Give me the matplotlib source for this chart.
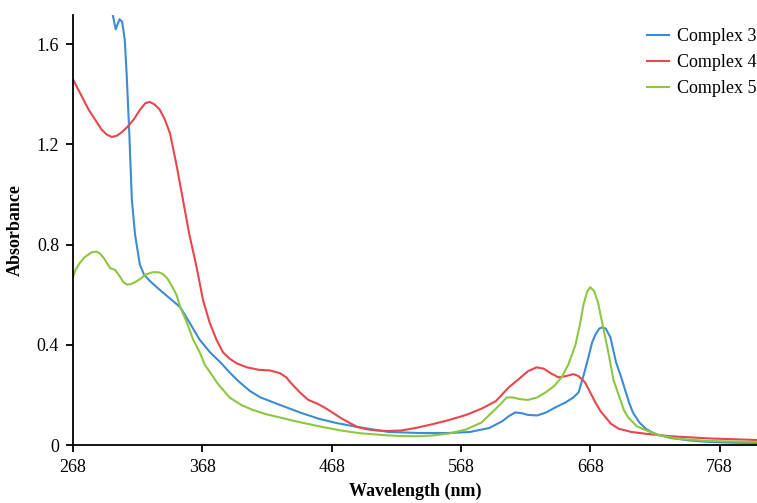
import numpy as np
import matplotlib.pyplot as plt

plt.rcParams['font.family'] = ['Liberation Serif', 'DejaVu Serif']

# Complex 3 (blue)
wl3 = [295, 298.8, 301, 304, 306, 308, 309.6, 311.5, 313.5, 316, 319.7, 323, 327.4, 335, 343, 351,
       358, 366, 374, 382, 390, 397, 405, 413, 428, 443.5, 458, 471.5, 488, 512, 535, 559, 575, 590,
       600, 605, 610, 615, 620, 627, 634, 641, 649, 655, 659, 663, 666.6, 669.5, 672, 675, 677.5, 680,
       683.6, 688, 692, 695, 698, 701, 706, 711, 716, 721, 730, 745, 761, 780, 797]
abs3 = [1.85, 1.716, 1.66, 1.70, 1.69, 1.62, 1.47, 1.25, 0.98, 0.84, 0.72, 0.68, 0.655, 0.62, 0.585, 0.55,
        0.49, 0.42, 0.37, 0.33, 0.285, 0.25, 0.215, 0.19, 0.16, 0.13, 0.105, 0.088, 0.072, 0.052, 0.048, 0.048, 0.052, 0.068,
        0.095, 0.115, 0.13, 0.127, 0.12, 0.118, 0.13, 0.15, 0.17, 0.19, 0.21, 0.28, 0.35, 0.41, 0.44, 0.465, 0.47, 0.465,
        0.43, 0.33, 0.27, 0.22, 0.17, 0.13, 0.09, 0.065, 0.05, 0.04, 0.028, 0.018, 0.012, 0.009, 0.008]

# Complex 4 (red)
wl4 = [268, 272, 276, 280, 285, 290, 294, 298, 302, 306, 310, 315, 320, 324, 327.4, 331, 335, 339, 343,
       348, 353, 358, 363.6, 368.5, 373.6, 379, 384, 389, 395, 402.6, 412, 420, 428, 433, 437, 443.5, 450,
       457, 464, 470, 476, 482, 488, 495, 503, 512, 522, 533, 546, 559, 572, 584, 595, 605, 612, 620,
       626.5, 632, 638, 643.5, 649, 655, 659, 664, 668, 672, 676, 680, 684, 690, 700, 710.5, 730, 761, 797]
abs4 = [1.46, 1.42, 1.38, 1.34, 1.30, 1.26, 1.24, 1.23, 1.235, 1.25, 1.27, 1.30, 1.34, 1.365, 1.37, 1.36, 1.34, 1.30, 1.245,
        1.12, 0.98, 0.84, 0.71, 0.58, 0.49, 0.42, 0.37, 0.345, 0.325, 0.31, 0.30, 0.298, 0.287, 0.27, 0.245, 0.21, 0.18,
        0.165, 0.145, 0.125, 0.105, 0.088, 0.072, 0.063, 0.058, 0.056, 0.058, 0.068, 0.083, 0.10, 0.12, 0.145, 0.175, 0.23, 0.26, 0.295,
        0.31, 0.305, 0.285, 0.27, 0.275, 0.283, 0.275, 0.25, 0.21, 0.17, 0.135, 0.11, 0.085, 0.065, 0.052, 0.045, 0.035, 0.026, 0.02]

# Complex 5 (green)
wl5 = [268, 270, 273, 277, 282.6, 286, 288.8, 292, 295, 297, 300.4, 304, 307, 310, 313, 316, 319.7, 324,
       329.7, 334, 337.4, 341, 345, 348, 351, 356, 361, 366, 370, 374, 380, 389, 398, 407, 418, 428, 440,
       458, 475, 490, 507, 520, 533, 546, 559, 572, 584, 592, 598, 603.4, 608, 614, 620, 627, 633.5, 640,
       645.8, 651, 656.6, 660, 662.8, 665.5, 668, 671, 674, 678, 682, 686, 690, 694, 697.4, 704, 710.5,
       720.6, 735, 760, 797]
abs5 = [0.67, 0.70, 0.725, 0.75, 0.77, 0.772, 0.765, 0.745, 0.72, 0.705, 0.70, 0.675, 0.65, 0.64, 0.643, 0.65, 0.662, 0.68,
        0.69, 0.69, 0.683, 0.665, 0.63, 0.60, 0.55, 0.49, 0.42, 0.37, 0.32, 0.29, 0.245, 0.19, 0.16, 0.14, 0.122, 0.11, 0.095,
        0.075, 0.058, 0.047, 0.04, 0.036, 0.035, 0.038, 0.046, 0.062, 0.09, 0.13, 0.16, 0.19, 0.19, 0.183, 0.18, 0.19, 0.21, 0.235,
        0.27, 0.32, 0.40, 0.48, 0.56, 0.61, 0.63, 0.615, 0.57, 0.47, 0.37, 0.26, 0.20, 0.14, 0.11, 0.075, 0.06,
        0.04, 0.025, 0.016, 0.012]

xticks = [268, 368, 468, 568, 668, 768]
yticks = [0, 0.4, 0.8, 1.2, 1.6]
ytick_labels = ["0", "0.4", "0.8", "1.2", "1.6"]

fig = plt.figure(figsize=(7.57, 5.03), dpi=100)
ax = fig.add_axes([73 / 757, 1 - 445 / 503, 1 - 73 / 757, (445 - 15) / 503])

ax.plot(wl3, abs3, color="#3d8bd3", lw=1.5, label="Complex 3")
ax.plot(wl4, abs4, color="#e8464b", lw=1.5, label="Complex 4")
ax.plot(wl5, abs5, color="#8dc641", lw=1.5, label="Complex 5")

ax.set_xlim(268, 797)
ax.set_ylim(0, 1.717)
ax.set_xticks(xticks)
ax.set_yticks(yticks)
ax.set_yticklabels(ytick_labels)
ax.tick_params(direction="out", length=5, width=1.3, labelsize=13, pad=5)
for s in ["top", "right"]:
    ax.spines[s].set_visible(False)
for s in ["left", "bottom"]:
    ax.spines[s].set_linewidth(1.3)

ax.set_xlabel("Wavelength (nm)", fontsize=13, fontweight="bold", labelpad=5)
ax.set_ylabel("Absorbance", fontsize=13, fontweight="bold", labelpad=9)

fig.legend(loc="upper left", bbox_to_anchor=(647 / 757, 1 - 28 / 503), frameon=False,
           fontsize=13, handlelength=1.2, handletextpad=0.45, labelspacing=0.5,
           borderpad=0, borderaxespad=0)

fig.savefig("out.png", dpi=100)
